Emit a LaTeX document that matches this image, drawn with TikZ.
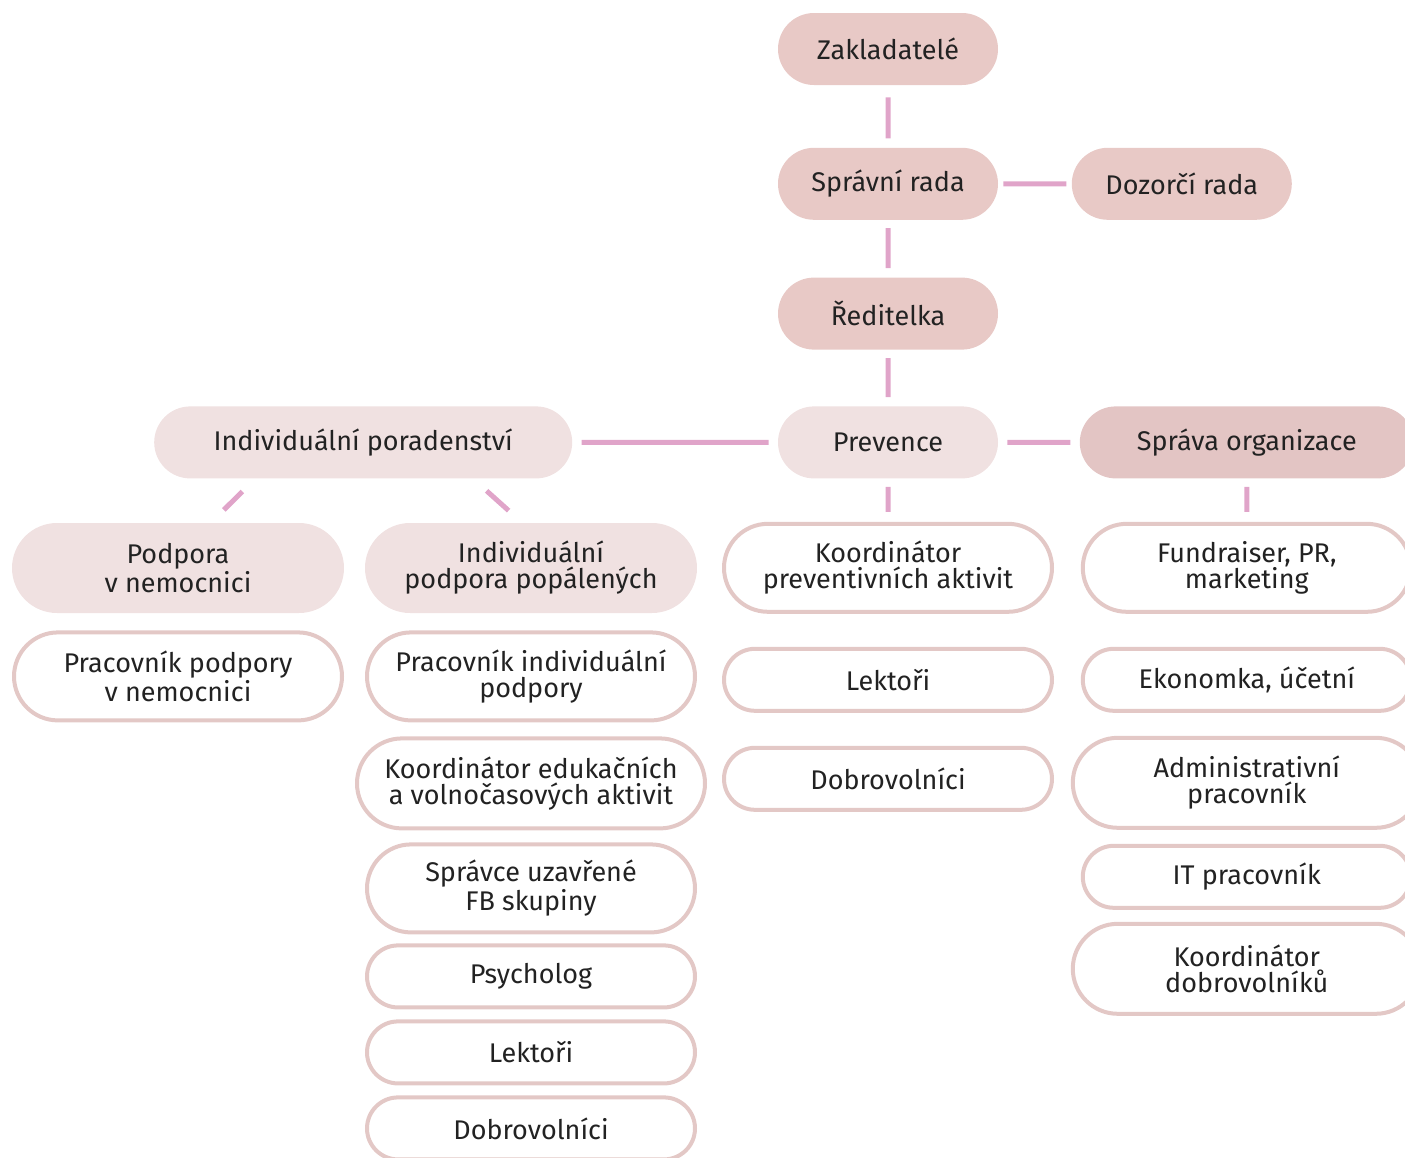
\documentclass[tikz,border=0pt]{standalone}
\usepackage{fontspec}
\setmainfont{Fira Sans}
\usetikzlibrary{positioning,shapes.misc}
\definecolor{PillRose}{HTML}{E8C9C6}
\definecolor{PillLight}{HTML}{F0E1E1}
\definecolor{PillMid}{HTML}{E3C5C4}
\definecolor{RimRose}{HTML}{E3C8C6}
\definecolor{LinkPink}{HTML}{E0A4C9}
\definecolor{InkGrey}{HTML}{222222}

\begin{document}
\begin{tikzpicture}[x=0.5pt, y=-0.5pt,
                      every node/.style={rounded rectangle, align=center, text=InkGrey, inner sep=0pt,
                                         font=\fontsize{13.5pt}{13pt}\selectfont},
                      boardbox/.style={fill=PillRose, minimum width=110pt, minimum height=36pt},
                      unitbox/.style={fill=PillLight, minimum width=166pt, minimum height=45pt},
                      rolebox/.style={draw=RimRose, line width=2pt, fill=white,
                                      minimum width=164pt, minimum height=44pt},
                      shortrole/.style={rolebox, minimum height=31pt},
                      widerole/.style={rolebox, minimum width=174pt, minimum height=45pt},
                      link/.style={draw=LinkPink, line width=2.5pt}]
  \useasboundingbox (0,0) rectangle (1405,1158);
  \clip (0,0) rectangle (1405,1158);
  % vedeni
  \node[boardbox] (zakl) at (888,49) {Zakladatelé};
  \node[boardbox, below=31pt of zakl] (spravni) {Správní rada};
  \node[boardbox, right=36.5pt of spravni] (dozor) {Dozorčí rada};
  \node[boardbox, below=28.5pt of spravni] (reditel) {Ředitelka};
  \node[boardbox, fill=PillLight, below=28pt of reditel] (prev) {Prevence};
  \node[boardbox, fill=PillLight, minimum width=209pt, left=102.5pt of prev] (indpor) {Individuální poradenství};
  \node[boardbox, fill=PillMid, minimum width=167pt, right=40.5pt of prev] (org) {Správa organizace};
  % useky
  \node[unitbox] (nemoc) at (178,568) {Podpora\\v nemocnici};
  \node[unitbox] (popal) at (531,568) {Individuální\\podpora popálených};
  \node[rolebox, below=21.5pt of prev] (koordprev) {Koordinátor\\preventivních aktivit};
  \node[rolebox, below=21.5pt of org] (fundr) {Fundraiser, PR,\\marketing};
  % pozice
  \node[rolebox, below=8.5pt of nemoc] (pracnem) {Pracovník podpory\\v nemocnici};
  \node[rolebox, below=8.5pt of popal] (pracind) {Pracovník individuální\\podpory};
  \node[widerole, below=7pt of pracind] (koordedu) {Koordinátor edukačních\\a volnočasových aktivit};
  \node[rolebox, below=6pt of koordedu] (fbskup) {Správce uzavřené\\FB skupiny};
  \node[shortrole, below=4.5pt of fbskup] (psych) {Psycholog};
  \node[shortrole, below=5pt of psych] (lektind) {Lektoři};
  \node[shortrole, below=5pt of lektind] (dobrind) {Dobrovolníci};
  \node[shortrole, below=16.5pt of koordprev] (lektprev) {Lektoři};
  \node[shortrole, below=16.5pt of lektprev] (dobrprev) {Dobrovolníci};
  \node[shortrole, below=16.5pt of fundr] (ekon) {Ekonomka, účetní};
  \node[widerole, below=11.5pt of ekon] (admin) {Administrativní\\pracovník};
  \node[shortrole, below=7pt of admin] (itprac) {IT pracovník};
  \node[widerole, below=6pt of itprac] (koorddobr) {Koordinátor\\dobrovolníků};
  % spojnice
  \draw[link, shorten <=6pt, shorten >=4.5pt] (zakl) -- (spravni);
  \draw[link, shorten <=2.5pt, shorten >=2.5pt] (spravni) -- (dozor);
  \draw[link, shorten <=4pt, shorten >=4.5pt] (spravni) -- (reditel);
  \draw[link, shorten <=4pt, shorten >=4.5pt] (reditel) -- (prev);
  \draw[link, shorten <=4.5pt, shorten >=4.5pt] (prev) -- (indpor);
  \draw[link, shorten <=4.5pt, shorten >=4.5pt] (prev) -- (org);
  \draw[link, shorten <=4pt, shorten >=5pt] (prev) -- (koordprev);
  \draw[link, shorten <=4pt, shorten >=5pt] (org) -- (fundr);
  \draw[link, shorten <=9pt, shorten >=9pt] ([xshift=-54pt]indpor.south) -- ([xshift=16.5pt]nemoc.north);
  \draw[link, shorten <=9pt, shorten >=9pt] ([xshift=55pt]indpor.south) -- ([xshift=-4.5pt]popal.north);
\end{tikzpicture}
\end{document}
